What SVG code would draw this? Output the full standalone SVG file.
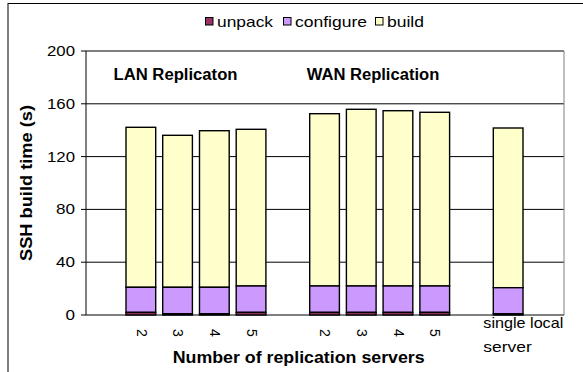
<svg xmlns="http://www.w3.org/2000/svg" width="583" height="372" viewBox="0 0 583 372">
  <style>
    text { font-family: "Liberation Sans", Arial, sans-serif; fill: #000; }
    .tick { font-size: 14px; text-anchor: end; }
    .cat { font-size: 14px; }
    .leg { font-size: 15px; }
    .title { font-size: 16px; font-weight: bold; }
    .grid { stroke: #000; stroke-width: 1; }
    .seg { stroke: #000; stroke-width: 1.4; }
    .unpack { fill: #993366; }
    .configure { fill: #CC99FF; }
    .build { fill: #FFFFCC; }
    .sw { stroke: #000; stroke-width: 1; }
  </style>

  <!-- chart frame -->
  <rect x="0" y="0" width="583" height="372" fill="#fff"/>
  <rect x="8" y="3.5" width="620" height="420" fill="none" stroke="#000" stroke-width="1"/>

  <!-- legend -->
  <g id="legend">
    <rect class="unpack sw" x="205.5" y="17.5" width="7.5" height="7.5"/>
    <text class="leg" x="217" y="26.5" textLength="56" lengthAdjust="spacingAndGlyphs">unpack</text>
    <rect class="configure sw" x="283.5" y="17.5" width="7.5" height="7.5"/>
    <text class="leg" x="295" y="26.5" textLength="72" lengthAdjust="spacingAndGlyphs">configure</text>
    <rect class="build sw" x="375.5" y="17.5" width="7.5" height="7.5"/>
    <text class="leg" x="387" y="26.5" textLength="37" lengthAdjust="spacingAndGlyphs">build</text>
  </g>

  <!-- plot area, gridlines and value axis -->
  <g id="axes">
    <line x1="86" y1="51" x2="564" y2="51" class="grid"/>
    <line x1="86" y1="103.8" x2="564" y2="103.8" class="grid"/>
    <line x1="86" y1="156.6" x2="564" y2="156.6" class="grid"/>
    <line x1="86" y1="209.4" x2="564" y2="209.4" class="grid"/>
    <line x1="86" y1="262.2" x2="564" y2="262.2" class="grid"/>
    <line x1="564" y1="51" x2="564" y2="315" stroke="#808080" stroke-width="1"/>
    <line x1="86" y1="51" x2="86" y2="315" class="grid"/>
    <line x1="81" y1="315" x2="564" y2="315" class="grid"/>
    <g class="grid">
      <line x1="81" y1="51" x2="86" y2="51"/>
      <line x1="81" y1="103.8" x2="86" y2="103.8"/>
      <line x1="81" y1="156.6" x2="86" y2="156.6"/>
      <line x1="81" y1="209.4" x2="86" y2="209.4"/>
      <line x1="81" y1="262.2" x2="86" y2="262.2"/>
    </g>
    <text class="tick" x="75" y="56" textLength="28" lengthAdjust="spacingAndGlyphs">200</text>
    <text class="tick" x="75" y="108.8" textLength="28" lengthAdjust="spacingAndGlyphs">160</text>
    <text class="tick" x="75" y="161.6" textLength="28" lengthAdjust="spacingAndGlyphs">120</text>
    <text class="tick" x="75" y="214.4" textLength="19" lengthAdjust="spacingAndGlyphs">80</text>
    <text class="tick" x="75" y="267.2" textLength="19" lengthAdjust="spacingAndGlyphs">40</text>
    <text class="tick" x="75" y="320" textLength="9.5" lengthAdjust="spacingAndGlyphs">0</text>
  </g>

  <!-- stacked bars: unpack / configure / build -->
  <g id="bars">
    <g id="lan-2">
      <rect class="build seg" x="126" y="127.3" width="29.7" height="160"/>
      <rect class="configure seg" x="126" y="287.3" width="29.7" height="25.1"/>
      <rect class="unpack seg" x="126" y="312.4" width="29.7" height="2.6"/>
    </g>
    <g id="lan-3">
      <rect class="build seg" x="162.7" y="135.3" width="29.7" height="152"/>
      <rect class="configure seg" x="162.7" y="287.3" width="29.7" height="26.4"/>
      <rect class="unpack seg" x="162.7" y="313.7" width="29.7" height="1.3"/>
    </g>
    <g id="lan-4">
      <rect class="build seg" x="199.5" y="130.7" width="29.7" height="156.6"/>
      <rect class="configure seg" x="199.5" y="287.3" width="29.7" height="26.4"/>
      <rect class="unpack seg" x="199.5" y="313.7" width="29.7" height="1.3"/>
    </g>
    <g id="lan-5">
      <rect class="build seg" x="236.2" y="129.3" width="29.7" height="156.7"/>
      <rect class="configure seg" x="236.2" y="286" width="29.7" height="26.4"/>
      <rect class="unpack seg" x="236.2" y="312.4" width="29.7" height="2.6"/>
    </g>
    <g id="wan-2">
      <rect class="build seg" x="309.7" y="113.7" width="29.7" height="172.3"/>
      <rect class="configure seg" x="309.7" y="286" width="29.7" height="26.4"/>
      <rect class="unpack seg" x="309.7" y="312.4" width="29.7" height="2.6"/>
    </g>
    <g id="wan-3">
      <rect class="build seg" x="346.4" y="109.3" width="29.7" height="176.7"/>
      <rect class="configure seg" x="346.4" y="286" width="29.7" height="26.4"/>
      <rect class="unpack seg" x="346.4" y="312.4" width="29.7" height="2.6"/>
    </g>
    <g id="wan-4">
      <rect class="build seg" x="383.1" y="110.7" width="29.7" height="175.3"/>
      <rect class="configure seg" x="383.1" y="286" width="29.7" height="26.4"/>
      <rect class="unpack seg" x="383.1" y="312.4" width="29.7" height="2.6"/>
    </g>
    <g id="wan-5">
      <rect class="build seg" x="419.9" y="112.3" width="29.7" height="173.7"/>
      <rect class="configure seg" x="419.9" y="286" width="29.7" height="26.4"/>
      <rect class="unpack seg" x="419.9" y="312.4" width="29.7" height="2.6"/>
    </g>
    <g id="single-local">
      <rect class="build seg" x="493.3" y="128" width="29.7" height="159.7"/>
      <rect class="configure seg" x="493.3" y="287.7" width="29.7" height="26"/>
      <rect class="unpack seg" x="493.3" y="313.7" width="29.7" height="1.3"/>
    </g>
  </g>

  <!-- group captions inside the plot -->
  <text class="title" x="113.5" y="80" textLength="124" lengthAdjust="spacingAndGlyphs">LAN Replicaton</text>
  <text class="title" x="306.7" y="80" textLength="132.6" lengthAdjust="spacingAndGlyphs">WAN Replication</text>

  <!-- category labels -->
  <g id="categories">
    <text class="cat" transform="translate(136.5,329) rotate(90)">2</text>
    <text class="cat" transform="translate(173.2,329) rotate(90)">3</text>
    <text class="cat" transform="translate(210,329) rotate(90)">4</text>
    <text class="cat" transform="translate(246.7,329) rotate(90)">5</text>
    <text class="cat" transform="translate(320.2,329) rotate(90)">2</text>
    <text class="cat" transform="translate(356.9,329) rotate(90)">3</text>
    <text class="cat" transform="translate(393.6,329) rotate(90)">4</text>
    <text class="cat" transform="translate(430.4,329) rotate(90)">5</text>
    <text class="leg" x="483.3" y="328" textLength="80" lengthAdjust="spacingAndGlyphs">single local</text>
    <text class="leg" x="483.3" y="351.5" textLength="48.4" lengthAdjust="spacingAndGlyphs">server</text>
  </g>

  <!-- axis titles -->
  <text class="title" transform="translate(31.5,183) rotate(-90)" text-anchor="middle" textLength="156" lengthAdjust="spacingAndGlyphs">SSH build time (s)</text>
  <text class="title" x="172.7" y="362.5" textLength="252" lengthAdjust="spacingAndGlyphs">Number of replication servers</text>
</svg>
